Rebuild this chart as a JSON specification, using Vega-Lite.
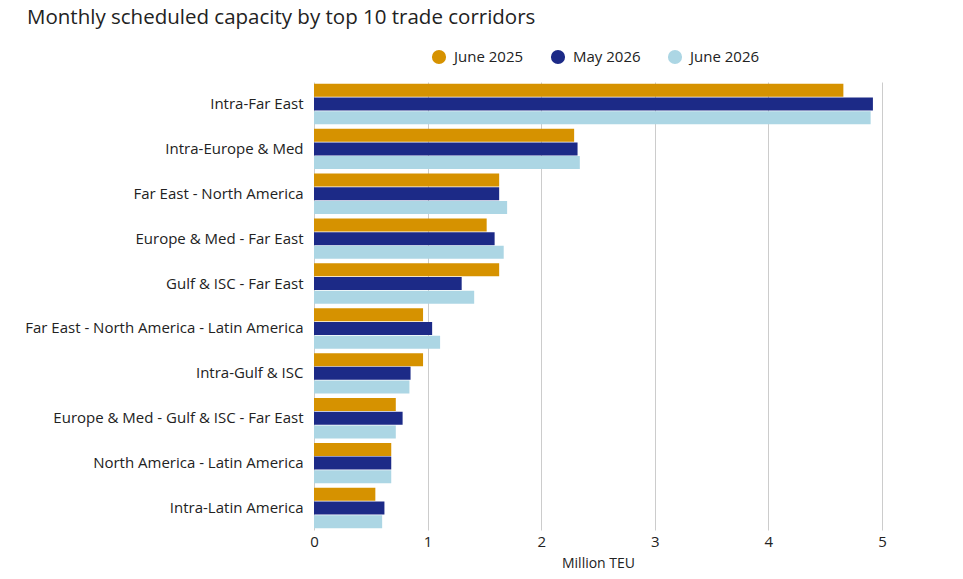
{
  "$schema": "https://vega.github.io/schema/vega-lite/v6.json",
  "autosize": "none",
  "padding": {"left": 314, "top": 82, "right": 81, "bottom": 49},
  "width": 568,
  "height": 448,
  "background": "white",
  "config": {
    "font": "Open Sans",
    "view": {"stroke": null}
  },
  "title": {
    "text": "Monthly scheduled capacity by top 10 trade corridors",
    "anchor": "start",
    "frame": "group",
    "dx": -287,
    "offset": 21,
    "fontSize": 20.5,
    "fontWeight": "normal",
    "color": "#222222",
    "font": "Open Sans"
  },
  "data": {
    "values": [
      {"corridor": "Intra-Far East", "period": "June 2025", "value": 4.66},
      {"corridor": "Intra-Far East", "period": "May 2026", "value": 4.92},
      {"corridor": "Intra-Far East", "period": "June 2026", "value": 4.90},
      {"corridor": "Intra-Europe & Med", "period": "June 2025", "value": 2.29},
      {"corridor": "Intra-Europe & Med", "period": "May 2026", "value": 2.32},
      {"corridor": "Intra-Europe & Med", "period": "June 2026", "value": 2.34},
      {"corridor": "Far East - North America", "period": "June 2025", "value": 1.63},
      {"corridor": "Far East - North America", "period": "May 2026", "value": 1.63},
      {"corridor": "Far East - North America", "period": "June 2026", "value": 1.70},
      {"corridor": "Europe & Med - Far East", "period": "June 2025", "value": 1.52},
      {"corridor": "Europe & Med - Far East", "period": "May 2026", "value": 1.59},
      {"corridor": "Europe & Med - Far East", "period": "June 2026", "value": 1.67},
      {"corridor": "Gulf & ISC - Far East", "period": "June 2025", "value": 1.63},
      {"corridor": "Gulf & ISC - Far East", "period": "May 2026", "value": 1.30},
      {"corridor": "Gulf & ISC - Far East", "period": "June 2026", "value": 1.41},
      {"corridor": "Far East - North America - Latin America", "period": "June 2025", "value": 0.96},
      {"corridor": "Far East - North America - Latin America", "period": "May 2026", "value": 1.04},
      {"corridor": "Far East - North America - Latin America", "period": "June 2026", "value": 1.11},
      {"corridor": "Intra-Gulf & ISC", "period": "June 2025", "value": 0.96},
      {"corridor": "Intra-Gulf & ISC", "period": "May 2026", "value": 0.85},
      {"corridor": "Intra-Gulf & ISC", "period": "June 2026", "value": 0.84},
      {"corridor": "Europe & Med - Gulf & ISC - Far East", "period": "June 2025", "value": 0.72},
      {"corridor": "Europe & Med - Gulf & ISC - Far East", "period": "May 2026", "value": 0.78},
      {"corridor": "Europe & Med - Gulf & ISC - Far East", "period": "June 2026", "value": 0.72},
      {"corridor": "North America - Latin America", "period": "June 2025", "value": 0.68},
      {"corridor": "North America - Latin America", "period": "May 2026", "value": 0.68},
      {"corridor": "North America - Latin America", "period": "June 2026", "value": 0.68},
      {"corridor": "Intra-Latin America", "period": "June 2025", "value": 0.54},
      {"corridor": "Intra-Latin America", "period": "May 2026", "value": 0.62},
      {"corridor": "Intra-Latin America", "period": "June 2026", "value": 0.60}
    ]
  },
  "mark": {"type": "bar"},
  "encoding": {
    "y": {
      "field": "corridor",
      "type": "nominal",
      "sort": null,
      "scale": {"paddingInner": 0.1, "paddingOuter": 0.04},
      "axis": {
        "title": null,
        "ticks": false,
        "domain": false,
        "labelFontSize": 15,
        "labelColor": "#222222",
        "labelPadding": 11,
        "labelLimit": 400
      }
    },
    "yOffset": {
      "field": "period",
      "type": "nominal",
      "sort": ["June 2025", "May 2026", "June 2026"],
      "scale": {"paddingInner": 0.05}
    },
    "x": {
      "field": "value",
      "type": "quantitative",
      "scale": {"domain": [0, 5], "nice": false},
      "axis": {
        "title": "Million TEU",
        "titleFontSize": 14,
        "titleFontWeight": "normal",
        "titleColor": "#222222",
        "titlePadding": 7,
        "values": [0, 1, 2, 3, 4, 5],
        "ticks": false,
        "domain": false,
        "labelFlush": false,
        "labelFontSize": 15,
        "labelColor": "#222222",
        "labelPadding": 4,
        "gridColor": "#cccccc",
        "gridWidth": 1
      }
    },
    "color": {
      "field": "period",
      "type": "nominal",
      "sort": ["June 2025", "May 2026", "June 2026"],
      "scale": {
        "domain": ["June 2025", "May 2026", "June 2026"],
        "range": ["#d69200", "#1c2a87", "#acd6e4"]
      },
      "legend": {
        "title": null,
        "orient": "none",
        "direction": "horizontal",
        "legendX": 117,
        "legendY": -33,
        "symbolType": "circle",
        "symbolSize": 200,
        "labelFontSize": 15,
        "labelColor": "#222222",
        "labelOffset": 7,
        "columnPadding": 26
      }
    }
  }
}
